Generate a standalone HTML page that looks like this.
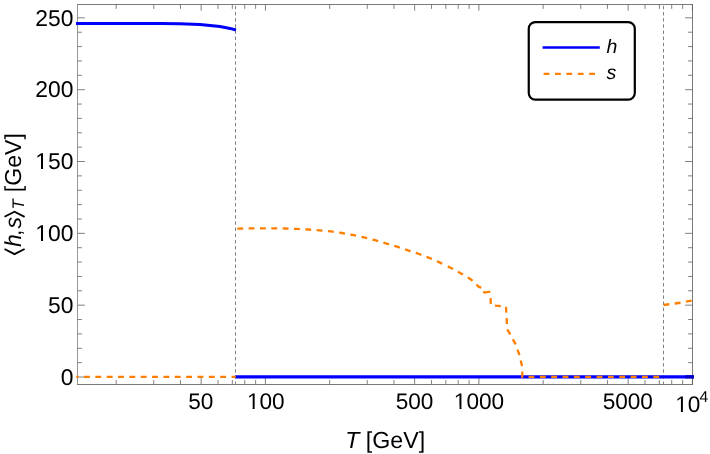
<!DOCTYPE html>
<html><head><meta charset="utf-8"><title>plot</title>
<style>html,body{margin:0;padding:0;background:#fff}svg{display:block;will-change:transform}text{text-rendering:geometricPrecision;font-family:"Liberation Sans",sans-serif;fill:#000}</style></head><body>
<svg width="710" height="454" viewBox="0 0 710 454">
<rect x="0" y="0" width="710" height="454" fill="#fff"/>
<path d="M201.13 384.5v-7.2M201.13 4.5v6.2M265.40 384.5v-7.2M265.40 4.5v6.2M414.63 384.5v-7.2M414.63 4.5v6.2M478.90 384.5v-7.2M478.90 4.5v6.2M628.13 384.5v-7.2M628.13 4.5v6.2M692.40 384.5v-7.2M692.40 4.5v6.2M116.17 384.5v-4.4M116.17 4.5v4.4M153.77 384.5v-4.4M153.77 4.5v4.4M180.44 384.5v-4.4M180.44 4.5v4.4M218.04 384.5v-4.4M218.04 4.5v4.4M232.33 384.5v-4.4M232.33 4.5v4.4M244.71 384.5v-4.4M244.71 4.5v4.4M255.63 384.5v-4.4M255.63 4.5v4.4M329.67 384.5v-4.4M329.67 4.5v4.4M367.27 384.5v-4.4M367.27 4.5v4.4M393.94 384.5v-4.4M393.94 4.5v4.4M431.54 384.5v-4.4M431.54 4.5v4.4M445.83 384.5v-4.4M445.83 4.5v4.4M458.21 384.5v-4.4M458.21 4.5v4.4M469.13 384.5v-4.4M469.13 4.5v4.4M543.17 384.5v-4.4M543.17 4.5v4.4M580.77 384.5v-4.4M580.77 4.5v4.4M607.44 384.5v-4.4M607.44 4.5v4.4M645.04 384.5v-4.4M645.04 4.5v4.4M659.33 384.5v-4.4M659.33 4.5v4.4M671.71 384.5v-4.4M671.71 4.5v4.4M682.63 384.5v-4.4M682.63 4.5v4.4M77.5 377.00h7.4M692.5 377.00h-7.4M77.5 362.63h4.4M692.5 362.63h-4.4M77.5 348.27h4.4M692.5 348.27h-4.4M77.5 333.90h4.4M692.5 333.90h-4.4M77.5 319.54h4.4M692.5 319.54h-4.4M77.5 305.17h7.4M692.5 305.17h-7.4M77.5 290.80h4.4M692.5 290.80h-4.4M77.5 276.44h4.4M692.5 276.44h-4.4M77.5 262.07h4.4M692.5 262.07h-4.4M77.5 247.71h4.4M692.5 247.71h-4.4M77.5 233.34h7.4M692.5 233.34h-7.4M77.5 218.97h4.4M692.5 218.97h-4.4M77.5 204.61h4.4M692.5 204.61h-4.4M77.5 190.24h4.4M692.5 190.24h-4.4M77.5 175.88h4.4M692.5 175.88h-4.4M77.5 161.51h7.4M692.5 161.51h-7.4M77.5 147.14h4.4M692.5 147.14h-4.4M77.5 132.78h4.4M692.5 132.78h-4.4M77.5 118.41h4.4M692.5 118.41h-4.4M77.5 104.05h4.4M692.5 104.05h-4.4M77.5 89.68h7.4M692.5 89.68h-7.4M77.5 75.31h4.4M692.5 75.31h-4.4M77.5 60.95h4.4M692.5 60.95h-4.4M77.5 46.58h4.4M692.5 46.58h-4.4M77.5 32.22h4.4M692.5 32.22h-4.4M77.5 17.85h7.4M692.5 17.85h-7.4" stroke="#4a4a4a" stroke-width="0.7" fill="none"/>
<path d="M77.09 4.5H692.91M692.5 4.5V384.5M692.91 384.5H77.09" fill="none" stroke="#5c5c5c" stroke-width="0.82"/>
<path d="M77.5 4.5V384.5" fill="none" stroke="#5c5c5c" stroke-width="0.64"/>
<line x1="235.5" y1="5.8" x2="235.5" y2="384.5" stroke="#555" stroke-width="0.74" stroke-dasharray="3.5 2.66"/>
<line x1="663.5" y1="5.8" x2="663.5" y2="384.5" stroke="#555" stroke-width="0.74" stroke-dasharray="3.5 2.66"/>
<polyline points="76,23.4 130,23.4 160,23.55 180,23.8 200,24.6 210,25.4 220,26.6 230,28.4 236,30" fill="none" stroke="#0000fa" stroke-width="3.05" stroke-linejoin="round"/>
<line x1="235.4" y1="376.85" x2="694" y2="376.85" stroke="#0000fa" stroke-width="3.1"/>
<line x1="685.3" y1="376.8" x2="693.9" y2="376.8" stroke="#0000c4" stroke-width="3.1"/>
<line x1="76.3" y1="376.85" x2="235.6" y2="376.85" stroke="#ff7f00" stroke-width="2.3" stroke-dasharray="5.85 5.5" stroke-dashoffset="3.65"/>
<polyline points="237.3,228.6 251,228.4 263,228.3 274,228.3 285,228.5 297,228.9 308,229.5 319,230.3 331,231.4 342,233 353,235 364,237.4 375,240.2 386,243.4 397,246.6 408,250.4 419,254 429,257.8 440,262.6 443.5,264.3" fill="none" stroke="#ff7f00" stroke-width="2.3" stroke-linejoin="miter" stroke-dasharray="5.85 5.493"/>
<polyline points="447.8,266.4 451,268 461,273.4 471,279.4 478.9,286.95 481.6,287.6" fill="none" stroke="#ff7f00" stroke-width="2.3" stroke-linejoin="miter" stroke-dasharray="5.85 5.55"/>
<polyline points="483.6,291.2 484.4,292.6 490.3,291.65" fill="none" stroke="#ff7f00" stroke-width="2.3" stroke-linejoin="miter" />
<polyline points="490.6,298.1 490.8,305.2 506,306.5 507,325 507,329 510.2,334.3 515.7,344.5 519.5,355.1 522,366 522.4,376.85 661,376.85" fill="none" stroke="#ff7f00" stroke-width="2.3" stroke-linejoin="miter" stroke-dasharray="5.85 5.493"/>
<polyline points="663.5,305 669.2,304.25 680.9,302.7 693,300.4" fill="none" stroke="#ff7f00" stroke-width="2.3" stroke-dasharray="5.85 5.5"/>
<text x="73.35" y="384.65" font-size="22.85" text-anchor="end">0</text>
<text x="73.35" y="312.82" font-size="22.85" text-anchor="end">50</text>
<text x="73.35" y="240.99" font-size="22.85" text-anchor="end">100</text>
<text x="73.35" y="169.16" font-size="22.85" text-anchor="end">150</text>
<text x="73.35" y="97.33" font-size="22.85" text-anchor="end">200</text>
<text x="73.35" y="25.50" font-size="22.85" text-anchor="end">250</text>
<text x="200.8" y="409.4" font-size="22.6" text-anchor="middle">50</text>
<text x="265.8" y="409.4" font-size="22.6" text-anchor="middle">100</text>
<text x="414.5" y="409.4" font-size="22.6" text-anchor="middle">500</text>
<text x="479.0" y="409.4" font-size="22.6" text-anchor="middle">1000</text>
<text x="627.8" y="409.4" font-size="22.6" text-anchor="middle">5000</text>
<text x="675.2" y="412.2" font-size="22.6">10</text>
<text x="699.6" y="402.4" font-size="15.6">4</text>
<rect x="36.37" y="238.18" width="4.61" height="3.71" fill="#fff"/>
<rect x="42.99" y="238.18" width="4.43" height="3.71" fill="#fff"/>
<rect x="36.37" y="166.35" width="4.61" height="3.71" fill="#fff"/>
<rect x="42.99" y="166.35" width="4.43" height="3.71" fill="#fff"/>
<rect x="248.07" y="406.61" width="4.56" height="3.69" fill="#fff"/>
<rect x="254.63" y="406.61" width="4.39" height="3.69" fill="#fff"/>
<rect x="454.98" y="406.61" width="4.56" height="3.69" fill="#fff"/>
<rect x="461.54" y="406.61" width="4.39" height="3.69" fill="#fff"/>
<rect x="676.32" y="409.41" width="4.56" height="3.69" fill="#fff"/>
<rect x="682.88" y="409.41" width="4.39" height="3.69" fill="#fff"/>
<text x="345.2" y="447.5" font-size="23.2"><tspan font-style="italic">T</tspan> [GeV]</text>
<g transform="translate(20.6 255) rotate(-90)">
<polyline points="6.0,-16.1 0.9,-6.1 6.0,4.0" fill="none" stroke="#000" stroke-width="1.85"/>
<text x="8" y="0" font-size="23.1" font-style="italic">h</text>
<text x="19.1" y="0" font-size="23.1">,</text>
<text x="26.5" y="0" font-size="23.1" font-style="italic">s</text>
<polyline points="38.2,-16.1 43.3,-6.1 38.2,4.0" fill="none" stroke="#000" stroke-width="1.85"/>
<text x="45.4" y="3.8" font-size="16.8" font-style="italic">T</text>
<text x="62.8" y="0" font-size="23.1">[GeV]</text>
</g>
<rect x="528.75" y="22.05" width="106.05" height="77.55" rx="6.6" ry="6.6" fill="#fff" stroke="#000" stroke-width="2.2"/>
<line x1="542.6" y1="47.5" x2="599.8" y2="47.5" stroke="#0000fa" stroke-width="2.3"/>
<line x1="543.6" y1="73.9" x2="597" y2="73.9" stroke="#ff7f00" stroke-width="2.1" stroke-dasharray="5.8 5.6"/>
<text x="606.4" y="52.9" font-size="19.5" font-style="italic">h</text>
<text x="606.5" y="79.4" font-size="19.6" font-style="italic">s</text>
</svg></body></html>
